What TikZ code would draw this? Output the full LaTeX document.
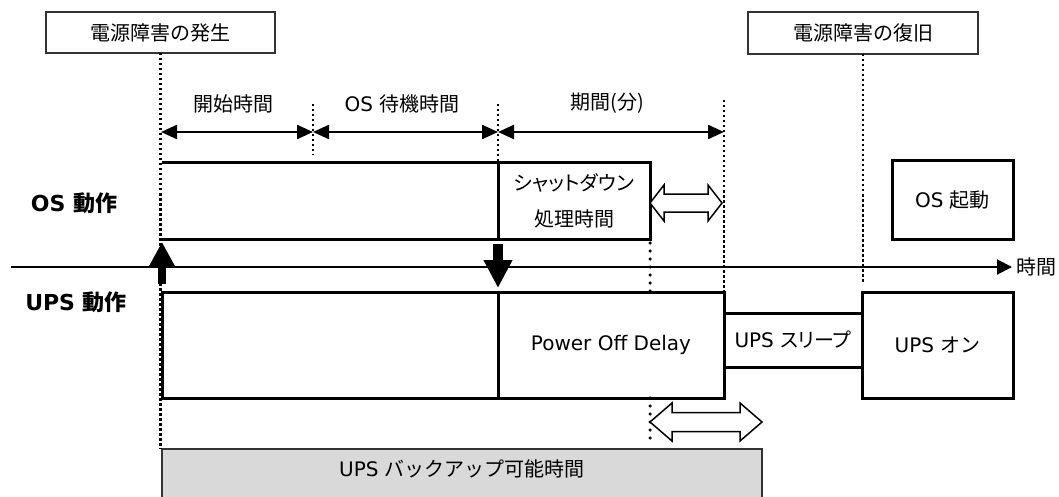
\documentclass[tikz,border=0pt]{standalone}
\usepackage{fontspec}
\setmainfont{DejaVu Sans}
\newfontfamily\jp{Noto Sans CJK JP}
\newfontfamily\jpp{Noto Sans CJK JP}[RawFeature=+palt]
\usetikzlibrary{arrows.meta}
\definecolor{bkgray}{HTML}{D9D9D9}
\definecolor{edgegray}{HTML}{333333}
\tikzset{
  txt/.style={inner sep=0pt, outer sep=0pt, font=\fontsize{20}{24}\selectfont},
  hdr/.style={inner sep=0pt, outer sep=0pt, font=\fontsize{22}{26}\selectfont\bfseries},
  evbox/.style={draw=edgegray, line width=1.5pt, fill=white, inner sep=0pt, outer sep=0pt, font=\fontsize{20}{24}\selectfont},
  pbox/.style={draw=black, line width=3pt, fill=white, inner sep=0pt, outer sep=0pt, font=\fontsize{20}{24}\selectfont},
  dotl/.style={line width=2.5pt, dash pattern=on 2.5pt off 2.5pt},
  rdot/.style={line width=3.5pt, line cap=round, dash pattern=on 0pt off 8pt},
  dimarrow/.style={line width=2.3pt, {Triangle[length=16pt,width=14pt]}-{Triangle[length=16pt,width=14pt]}},
  hollow/.style={draw=black, line width=1.5pt, fill=white, line join=miter},
}
\begin{document}
\begin{tikzpicture}[x=1pt,y=-1pt]
\useasboundingbox (0,0) rectangle (1059,497);

% event boxes
\node[evbox, minimum width=229pt, minimum height=41pt] (ev1) at (160.5,32.5) {\jp 電源障害の発生};
\node[evbox, minimum width=230pt, minimum height=42pt] (ev2) at (863,33) {\jp 電源障害の復旧};

% gray backup box
\node[draw=edgegray, line width=1.2pt, fill=bkgray, inner sep=0pt, outer sep=0pt,
      minimum width=600pt, minimum height=56pt] (bk) at (462,477) {};
\node[txt] (bkt) at (462,469) {UPS {\jp バックアップ可能時間}};

% OS row boxes
\node[inner sep=0pt, outer sep=0pt, minimum width=336pt, minimum height=76pt] (osA) at (330,201) {};
\node[pbox, minimum width=152pt, minimum height=76pt, align=center,
      font=\jpp\fontsize{20}{36}\selectfont] (sd) at (574,201) {シャットダウン\\処理時間};
\node[pbox, minimum width=121pt, minimum height=78pt] (osb) at (952.5,200) {OS {\jp 起動}};

% UPS row boxes
\node[pbox, minimum width=336pt, minimum height=106pt] (upsA) at (330,345) {};
\node[pbox, minimum width=138pt, minimum height=54pt] (slp) at (793,340) {UPS {\jpp スリープ}};
\node[pbox, minimum width=226pt, minimum height=106pt] (pod) at (611,345) {Power Off Delay};
\node[pbox, minimum width=151pt, minimum height=106pt] (upon) at (937.5,345) {UPS {\jp オン}};

% dotted guide lines
\coordinate (t1a) at (313,104);
\coordinate (t1b) at (313,155);
\coordinate (t2a) at (498,104);
\coordinate (t3a) at (724,100);
\coordinate (t4b) at (863,284);
\coordinate (t5b) at (650,445);
\draw[dotl] (ev1.south) -- (ev1.south |- bk.north);
\draw[dotl] (t1a) -- (t1b);
\draw[dotl] (t2a) -- (osA.north east);
\draw[dotl] (t3a) -- (pod.north east);
\draw[dotl] (ev2.south) -- (t4b);
\draw[rdot] ([yshift=-4pt]sd.south east) -- (sd.east |- pod.north);
\draw[rdot] (sd.east |- pod.south) -- (t5b);

% OS box border (no left edge)
\draw[line width=3pt] (osA.north west) -- (osA.north east) -- (osA.south east) -- (osA.south west);

% dimension arrows
\coordinate (a0) at (161,132);
\coordinate (a1) at (313,132);
\coordinate (a2) at (498,132);
\coordinate (a3) at (724,132);
\draw[dimarrow] (a0) -- (a1);
\draw[dimarrow] (a1) -- (a2);
\draw[dimarrow] (a2) -- (a3);
\node[txt] (l1) at (233,104) {\jp 開始時間};
\node[txt] (l2) at (402,104) {OS {\jp 待機時間}};
\node[txt] (l3) at (607,103) {\jp 期間(分)};

% row headers
\node[hdr] (hos) at (74,203) {OS {\jp 動作}};
\node[hdr] (hups) at (76,302) {UPS {\jp 動作}};

% time axis
\coordinate (ax0) at (11,267);
\node[txt, anchor=west] (tl) at (1016,267) {\jp 時間};
\draw[line width=2pt, -{Triangle[length=15pt,width=15pt]}] (ax0) -- ([xshift=-4pt]tl.west);

% thick vertical arrows
\coordinate (ua0) at (162,284);
\coordinate (ua1) at (162,242);
\draw[line width=8pt, -{Triangle[length=25pt,width=25pt]}] (ua0) -- (ua1);
\coordinate (da0) at (498,244);
\coordinate (da1) at (498,288);
\draw[line width=10pt, -{Triangle[length=28pt,width=27pt]}] (da0) -- (da1);

% hollow double arrows
\draw[hollow] (650,203) -- (664,185) -- (664,194) -- (708,194) -- (708,185) -- (722,203)
  -- (708,221) -- (708,212) -- (664,212) -- (664,221) -- cycle;
\draw[hollow] (650,422) -- (672,403) -- (672,412.5) -- (740,412.5) -- (740,403) -- (762,422)
  -- (740,441) -- (740,431.5) -- (672,431.5) -- (672,441) -- cycle;
\end{tikzpicture}
\end{document}
